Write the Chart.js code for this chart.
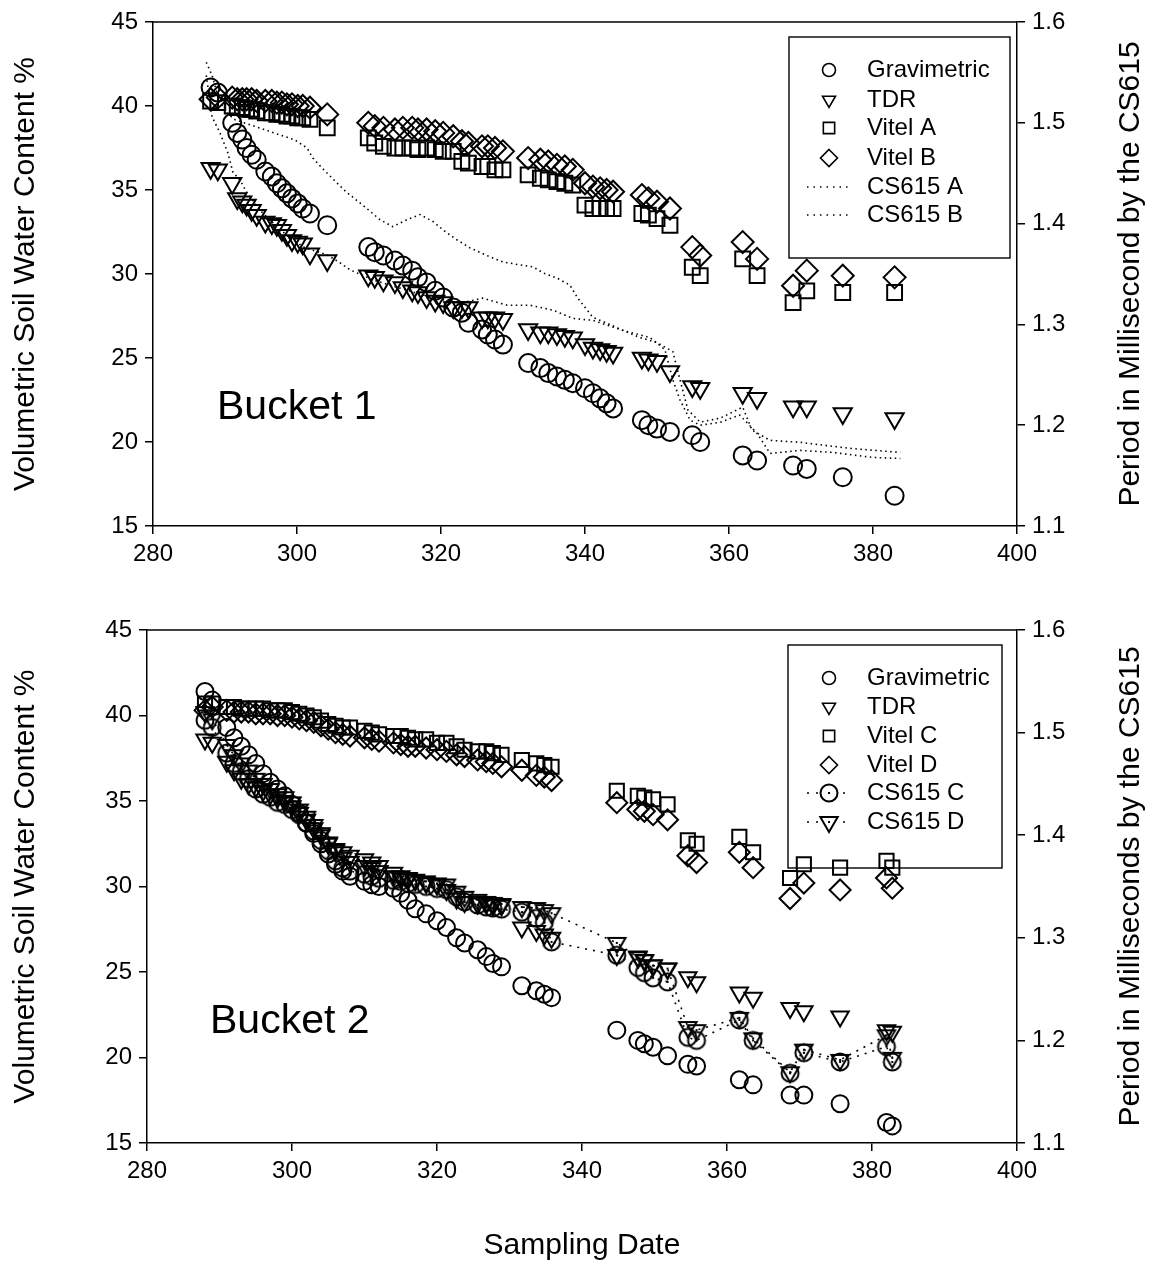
<!DOCTYPE html>
<html>
<head>
<meta charset="utf-8">
<script src="https://cdn.jsdelivr.net/npm/chart.js@4.4.0/dist/chart.umd.min.js"></script>
<style>
  html, body { margin: 0; padding: 0; background: #fff; }
  .panel { position: absolute; left: 0; width: 1154px; }
  #top { top: 0; height: 590px; }
  #bottom { top: 600px; height: 664px; }
</style>
</head>
<body>
<div class="panel" id="top"><canvas id="bucket1"></canvas></div>
<div class="panel" id="bottom"><canvas id="bucket2"></canvas></div>
<script>
// ---- Bucket 1 (sampling day, % water content) ----
const b1Days = [288, 289, 291, 291.7, 292.4, 293, 293.7, 294.4, 295.6, 296.5, 297.2, 297.9, 298.6, 299.3, 300.1, 300.8, 301.8, 304.2,
  309.9, 310.8, 312, 313.6, 314.7, 316, 316.8, 318, 319.2, 320.3, 321.7, 322.9, 323.8, 325.7, 326.5, 327.5, 328.6,
  332.1, 333.8, 334.9, 336.1, 337.2, 338.3, 340, 341.1, 342.1, 343, 343.9,
  347.9, 348.8, 350, 351.8,
  354.9, 356, 361.9, 363.9, 368.9, 370.8, 375.8, 383];
const b1Grav = [41.1, 40.8, 39.0, 38.4, 38.0, 37.5, 37.1, 36.8, 36.1, 35.8, 35.4, 35.1, 34.8, 34.5, 34.2, 33.9, 33.6, 32.9,
  31.6, 31.3, 31.1, 30.8, 30.5, 30.2, 29.8, 29.5, 29.0, 28.6, 28.0, 27.7, 27.1, 26.7, 26.4, 26.1, 25.8,
  24.7, 24.4, 24.1, 23.9, 23.7, 23.5, 23.2, 22.9, 22.6, 22.3, 22.0,
  21.3, 21.0, 20.8, 20.6,
  20.4, 20.0, 19.2, 18.9, 18.6, 18.4, 17.9, 16.8];
const b1Tdr = [36.3, 36.2, 35.4, 34.5, 34.3, 34.1, 33.8, 33.5, 33.1, 33.0, 32.9, 32.6, 32.3, 32.0, 31.9, 31.8, 31.2, 30.8,
  29.9, 29.8, 29.6, 29.5, 29.2, 29.0, 28.9, 28.6, 28.4, 28.3, 28.0, 28.0, 28.0, 27.4, 27.4, 27.4, 27.3,
  26.7, 26.5, 26.5, 26.4, 26.3, 26.2, 25.8, 25.6, 25.5, 25.4, 25.3,
  25.0, 24.9, 24.8, 24.2,
  23.3, 23.2, 22.9, 22.6, 22.1, 22.1, 21.7, 21.4];
const b1VitelA = [40.3, 40.2, 40.0, 39.9, 39.9, 39.8, 39.8, 39.7, 39.6, 39.6, 39.5, 39.5, 39.4, 39.4, 39.3, 39.3, 39.2, 38.7,
  38.1, 37.8, 37.6, 37.5, 37.5, 37.5, 37.4, 37.5, 37.4, 37.3, 37.3, 36.7, 36.6, 36.4, 36.4, 36.2, 36.2,
  35.9, 35.7, 35.6, 35.5, 35.4, 35.3, 34.1, 33.9, 33.9, 33.9, 33.9,
  33.6, 33.5, 33.3, 32.9,
  30.4, 29.9, 30.9, 29.9, 28.3, 29.0, 28.9, 28.9];
const b1VitelB = [40.4, 40.5, 40.5, 40.4, 40.4, 40.4, 40.4, 40.3, 40.3, 40.3, 40.2, 40.2, 40.1, 40.1, 40.0, 40.0, 39.9, 39.5,
  39.0, 38.8, 38.7, 38.6, 38.7, 38.7, 38.6, 38.6, 38.5, 38.4, 38.2, 37.9, 37.8, 37.6, 37.6, 37.5, 37.3,
  36.9, 36.8, 36.7, 36.5, 36.4, 36.2, 35.4, 35.2, 35.1, 35.0, 34.9,
  34.7, 34.5, 34.3, 33.9,
  31.6, 31.1, 31.9, 30.9, 29.3, 30.2, 29.9, 29.8];

// CS615 period (ms), logged continuously
const csADays = [287.4, 288.2, 289.0, 290.0, 291.4, 293.5, 295.6, 297.6, 299.7, 301.4, 302.2, 303.5, 305.6, 306.9, 308.3, 309.7,
  311.5, 313.3, 315.3, 317.1, 318.9, 320.6, 322.2, 324.0, 326.8, 328.6, 331.0, 332.8, 334.2, 336.1, 337.9, 339.0,
  341.1, 343.1, 345.3, 347.6, 350.0, 352.2, 353.2, 354.3, 356.0, 358.8, 361.9, 363.2, 365.7, 369.9, 376.8, 383.8];
const csAPeriod = [1.560, 1.547, 1.527, 1.511, 1.503, 1.498, 1.493, 1.488, 1.483, 1.475, 1.465, 1.455, 1.440, 1.431, 1.423, 1.415,
  1.404, 1.397, 1.404, 1.409, 1.402, 1.392, 1.384, 1.376, 1.367, 1.362, 1.359, 1.357, 1.351, 1.346, 1.339, 1.326,
  1.307, 1.301, 1.294, 1.287, 1.282, 1.273, 1.245, 1.215, 1.203, 1.207, 1.218, 1.195, 1.185, 1.183, 1.177, 1.173];
const csBDays = [287.4, 288.2, 289.3, 290.4, 291.1, 292.1, 293.1, 294.9, 296.9, 299.0, 301.1, 304.2, 306.0, 307.4, 310.6, 314.3,
  318.5, 322.6, 325.8, 329.2, 332.4, 335.6, 338.3, 341.1, 345.3, 349.0, 351.1, 352.2, 353.2, 354.6, 356.0, 358.8,
  361.5, 363.9, 365.7, 369.9, 374.4, 380.0, 383.8];
const csBPeriod = [1.547, 1.506, 1.490, 1.470, 1.451, 1.443, 1.430, 1.413, 1.399, 1.386, 1.376, 1.369, 1.361, 1.354, 1.344, 1.336,
  1.327, 1.321, 1.326, 1.319, 1.319, 1.314, 1.306, 1.304, 1.294, 1.287, 1.275, 1.245, 1.225, 1.205, 1.200, 1.203,
  1.210, 1.192, 1.172, 1.175, 1.173, 1.168, 1.167];

// ---- Bucket 2 ----
const b2Days = [288, 289, 291, 292, 293, 294, 295, 296, 297, 298, 299, 300, 301, 302, 303, 304,
  305, 306, 307, 308, 310, 311, 312, 314, 315, 316, 317, 318.5, 320, 321.3, 322.7, 323.8, 325.6, 326.8, 327.7, 328.9,
  331.7, 333.7, 334.8, 335.8,
  344.8, 347.7, 348.6, 349.8, 351.8,
  354.6, 355.8, 361.7, 363.6, 368.7, 370.6, 375.6, 382, 382.8];
const b2Grav = [41.4, 40.9, 39.3, 38.7, 38.2, 37.7, 37.2, 36.6, 36.1, 35.7, 35.3, 34.8, 34.3, 33.7, 33.1, 32.5,
  31.9, 31.3, 30.9, 30.6, 30.3, 30.1, 30.0, 29.9, 29.6, 29.2, 28.7, 28.4, 28.0, 27.6, 27.0, 26.7, 26.3, 25.9, 25.5, 25.3,
  24.2, 23.9, 23.7, 23.5,
  21.6, 21.0, 20.8, 20.6, 20.1,
  19.6, 19.5, 18.7, 18.4, 17.8, 17.8, 17.3, 16.2, 16.0];
const b2Tdr = [38.6, 38.4, 37.3, 36.8, 36.3, 36.0, 35.8, 35.6, 35.4, 35.2, 35.0, 34.7, 34.3, 33.9, 33.4, 33.0,
  32.5, 32.2, 32.0, 31.8, 31.6, 31.4, 31.2, 30.8, 30.6, 30.5, 30.4, 30.2, 30.1, 29.8, 29.3, 29.1, 29.0, 29.0, 28.9, 28.9,
  27.6, 27.4, 27.2, 27.0,
  26.0, 25.9, 25.7, 25.4, 25.2,
  24.7, 24.4, 23.8, 23.5, 22.9, 22.7, 22.4, 21.6, 21.5];
const b2VitelC = [40.7, 40.7, 40.5, 40.5, 40.4, 40.4, 40.4, 40.4, 40.3, 40.3, 40.3, 40.2, 40.1, 40.0, 39.9, 39.7,
  39.5, 39.4, 39.3, 39.3, 39.1, 39.0, 38.9, 38.8, 38.8, 38.7, 38.6, 38.6, 38.4, 38.4, 38.2, 38.0, 37.9, 37.9, 37.8, 37.7,
  37.4, 37.2, 37.1, 37.0,
  35.6, 35.3, 35.2, 35.1, 34.8,
  32.7, 32.5, 32.9, 32.0, 30.5, 31.3, 31.1, 31.5, 31.1];
const b2VitelD = [40.3, 40.5, 40.3, 40.2, 40.2, 40.2, 40.1, 40.1, 40.1, 40.0, 40.0, 39.9, 39.8, 39.7, 39.6, 39.4,
  39.2, 39.0, 38.9, 38.8, 38.7, 38.6, 38.5, 38.4, 38.3, 38.2, 38.2, 38.1, 38.0, 37.9, 37.7, 37.6, 37.4, 37.3, 37.2, 37.0,
  36.8, 36.5, 36.4, 36.2,
  34.9, 34.5, 34.4, 34.2, 33.9,
  31.8, 31.4, 32.0, 31.1, 29.3, 30.2, 29.8, 30.5, 29.9];
const b2CsC = [1.512, 1.505, 1.480, 1.470, 1.462, 1.455, 1.445, 1.440, 1.437, 1.432, 1.430, 1.425, 1.420, 1.412, 1.404, 1.395,
  1.385, 1.375, 1.368, 1.365, 1.362, 1.360, 1.358, 1.356, 1.355, 1.353, 1.352, 1.350, 1.348, 1.347, 1.340, 1.335, 1.332, 1.330, 1.329, 1.328,
  1.325, 1.319, 1.315, 1.296,
  1.283, 1.271, 1.266, 1.261, 1.257,
  1.203, 1.200, 1.220, 1.200, 1.168, 1.188, 1.179, 1.194, 1.179];
const b2CsD = [1.520, 1.513, 1.488, 1.478, 1.470, 1.463, 1.455, 1.450, 1.445, 1.440, 1.437, 1.432, 1.425, 1.418, 1.410, 1.402,
  1.393, 1.385, 1.378, 1.374, 1.370, 1.368, 1.365, 1.360, 1.358, 1.357, 1.356, 1.355, 1.353, 1.352, 1.345, 1.340, 1.337, 1.335, 1.334, 1.333,
  1.330, 1.329, 1.327, 1.324,
  1.295, 1.281, 1.278, 1.273, 1.270,
  1.213, 1.210, 1.222, 1.202, 1.169, 1.191, 1.181, 1.205, 1.183];

const xTicks = [280, 300, 320, 340, 360, 380, 400];

const FONT = '"Liberation Sans", Arial, sans-serif';
const pts = (xs, ys) => xs.map((x, i) => ({ x: x, y: ys[i] })).filter(p => p.y != null);

// circle / triangle with a dot in the middle, used by CS615 C and D
function dotMarker(shape) {
  const c = document.createElement('canvas');
  c.width = 24; c.height = 24;
  const g = c.getContext('2d');
  g.strokeStyle = '#000';
  g.lineWidth = 2;
  g.beginPath();
  if (shape === 'circle') {
    g.arc(12, 12, 8.5, 0, Math.PI * 2);
  } else {
    g.moveTo(12 - 8.7, 7); g.lineTo(12 + 8.7, 7); g.lineTo(12, 22); g.closePath();
  }
  g.stroke();
  g.fillStyle = '#000';
  g.fillRect(11, 11, 2, 2);
  return c;
}
const circleDot = dotMarker('circle');
const triDot = dotMarker('triangle');

function marker(label, xs, ys, style, r, rot) {
  return {
    label: label, data: pts(xs, ys), yAxisID: 'y',
    pointStyle: style, pointRadius: r, rotation: rot || 0,
    borderColor: '#000', backgroundColor: 'rgba(0,0,0,0)', pointBorderWidth: 2,
    showLine: false
  };
}
function cs615(label, xs, ys, style) {
  return {
    label: label, data: pts(xs, ys), yAxisID: 'y2',
    showLine: true, borderColor: '#000', borderWidth: 1.6, borderDash: style ? [2, 6] : [1.5, 3.5],
    pointStyle: style || 'circle', pointRadius: style ? 12 : 0,
    backgroundColor: 'rgba(0,0,0,0)', tension: 0
  };
}

function drawMarker(ctx, style, x, y, r) {
  if (style instanceof HTMLCanvasElement) {
    ctx.drawImage(style, Math.round(x - style.width / 2), Math.round(y - style.height / 2));
    return;
  }
  ctx.beginPath();
  if (style === 'circle') ctx.arc(x, y, r, 0, Math.PI * 2);
  else if (style === 'triangle') {
    ctx.moveTo(x - r * 0.866, y - r * 0.5); ctx.lineTo(x + r * 0.866, y - r * 0.5); ctx.lineTo(x, y + r); ctx.closePath();
  } else if (style === 'rect') {
    const s = r * 0.707; ctx.rect(x - s, y - s, 2 * s, 2 * s);
  } else if (style === 'rectRot') {
    ctx.moveTo(x, y - r); ctx.lineTo(x + r, y); ctx.lineTo(x, y + r); ctx.lineTo(x - r, y); ctx.closePath();
  }
  ctx.stroke();
}

// frame top line, right axis title, panel label and boxed legend
const panelExtras = {
  id: 'panelExtras',
  afterDraw(chart, args, o) {
    const ctx = chart.ctx, a = chart.chartArea;
    ctx.save();
    ctx.strokeStyle = '#000';
    ctx.fillStyle = '#000';
    ctx.lineWidth = 1.5;
    ctx.beginPath(); ctx.moveTo(a.left, a.top); ctx.lineTo(a.right, a.top); ctx.stroke();

    ctx.save();
    ctx.translate(o.rightTitleX, (a.top + a.bottom) / 2);
    ctx.rotate(-Math.PI / 2);
    ctx.font = '30px ' + FONT;
    ctx.textAlign = 'center';
    ctx.textBaseline = 'middle';
    ctx.fillText(o.rightTitle, 0, 0);
    ctx.restore();

    ctx.font = '41px ' + FONT;
    ctx.textBaseline = 'middle';
    ctx.fillText(o.label, o.labelX, o.labelY);

    const L = o.legend;
    ctx.lineWidth = 1.4;
    ctx.strokeRect(L.x, L.y, L.w, L.h);
    ctx.font = '24px ' + FONT;
    ctx.lineWidth = 1.6;
    chart.data.datasets.forEach((ds, i) => {
      const y = L.rows[i];
      if (ds.showLine) {
        ctx.save();
        ctx.setLineDash(ds.pointRadius ? [2, 7] : [1.5, 5]);
        ctx.beginPath(); ctx.moveTo(L.markX - 22, y); ctx.lineTo(L.markX + 22, y); ctx.stroke();
        ctx.restore();
        if (ds.pointRadius) {
          ctx.fillStyle = '#fff';
          ctx.fillRect(L.markX - 10, y - 10, 20, 20);
          ctx.fillStyle = '#000';
        }
      }
      if (ds.pointRadius) drawMarker(ctx, ds.pointStyle, L.markX, y, L.sizes[i]);
      ctx.fillText(ds.label, L.textX, y);
    });
    ctx.restore();
  }
};

function scales(leftWidth, xHeight, xTitle) {
  const tickFont = { family: FONT, size: 24 };
  const grid = { drawOnChartArea: false, drawTicks: true, tickLength: 8, color: '#000', lineWidth: 1.5 };
  const border = { display: true, color: '#000', width: 1.5 };
  return {
    x: {
      type: 'linear', min: 280, max: 400,
      afterBuildTicks: s => { s.ticks = xTicks.map(v => ({ value: v })); },
      ticks: { font: tickFont, color: '#000', padding: 6, maxRotation: 0 },
      grid: grid, border: border,
      title: { display: !!xTitle, text: xTitle, color: '#000', font: { family: FONT, size: 30 }, padding: { top: 0, bottom: 0 } },
      afterFit: s => { s.height = xHeight; }
    },
    y: {
      position: 'left', min: 15, max: 45,
      ticks: { stepSize: 5, font: tickFont, color: '#000', padding: 7 },
      grid: grid, border: border,
      title: { display: true, text: 'Volumetric Soil Water Content %', color: '#000', font: { family: FONT, size: 30 }, padding: { top: 8, bottom: 0 } },
      afterFit: s => { s.width = leftWidth; }
    },
    y2: {
      position: 'right', min: 1.1, max: 1.6,
      ticks: { stepSize: 0.1, font: tickFont, color: '#000', padding: 7, callback: v => v.toFixed(1) },
      grid: grid, border: border,
      afterFit: s => { s.width = 137; }
    }
  };
}

const common = {
  responsive: true, maintainAspectRatio: false, animation: false,
  layout: { autoPadding: false }
};

new Chart(document.getElementById('bucket1'), {
  type: 'scatter',
  data: {
    datasets: [
      marker('Gravimetric', b1Days, b1Grav, 'circle', 9),
      marker('TDR', b1Days, b1Tdr, 'triangle', 10.5, 180),
      marker('Vitel A', b1Days, b1VitelA, 'rect', 10.5),
      marker('Vitel B', b1Days, b1VitelB, 'rectRot', 11),
      cs615('CS615 A', csADays, csAPeriod),
      cs615('CS615 B', csBDays, csBPeriod)
    ]
  },
  options: Object.assign({}, common, {
    layout: { autoPadding: false, padding: { top: 22, left: 0, right: 0, bottom: 0 } },
    scales: scales(153, 64, ''),
    plugins: {
      legend: { display: false }, tooltip: { enabled: false },
      panelExtras: {
        label: 'Bucket 1', labelX: 217, labelY: 408,
        rightTitle: 'Period in Millisecond by the CS615', rightTitleX: 1131,
        legend: { x: 789, y: 37, w: 221, h: 221, markX: 829, textX: 867,
          rows: [70, 100, 128, 158, 187, 215], sizes: [6.5, 7.5, 8, 8.5, 0, 0] }
      }
    }
  }),
  plugins: [panelExtras]
});

new Chart(document.getElementById('bucket2'), {
  type: 'scatter',
  data: {
    datasets: [
      marker('Gravimetric', b2Days, b2Grav, 'circle', 8.5),
      marker('TDR', b2Days, b2Tdr, 'triangle', 10, 180),
      marker('Vitel C', b2Days, b2VitelC, 'rect', 10),
      marker('Vitel D', b2Days, b2VitelD, 'rectRot', 10.5),
      cs615('CS615 C', b2Days, b2CsC, circleDot),
      cs615('CS615 D', b2Days, b2CsD, triDot)
    ]
  },
  options: Object.assign({}, common, {
    layout: { autoPadding: false, padding: { top: 30, left: 0, right: 0, bottom: 0 } },
    scales: scales(147, 121, 'Sampling Date'),
    plugins: {
      legend: { display: false }, tooltip: { enabled: false },
      panelExtras: {
        label: 'Bucket 2', labelX: 210, labelY: 422,
        rightTitle: 'Period in Milliseconds by the CS615', rightTitleX: 1131,
        legend: { x: 788, y: 45, w: 214, h: 223, markX: 829, textX: 867,
          rows: [78, 107, 136, 165, 193, 222], sizes: [6.5, 7.5, 8, 8.5, 8, 8] }
      }
    }
  }),
  plugins: [panelExtras]
});
</script>
</body>
</html>
